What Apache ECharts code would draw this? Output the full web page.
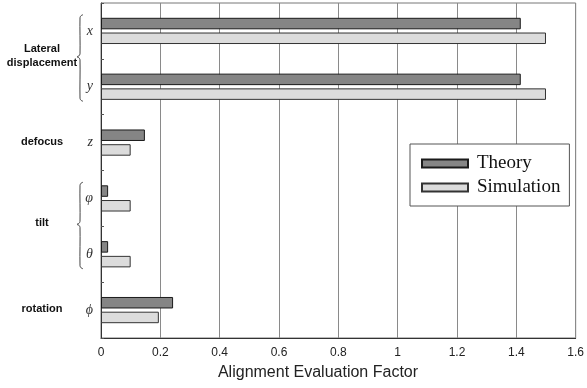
<!DOCTYPE html>
<html>
<head>
<meta charset="utf-8">
<script src="https://cdn.jsdelivr.net/npm/echarts@6/dist/echarts.min.js"></script>
<style>html,body{margin:0;padding:0;background:#fff}#c{width:587px;height:388px}</style>
</head>
<body>
<div id="c"></div>
<script>
var categories = ['x', 'y', 'z', 'φ', 'θ', 'ϕ'];
var theory = [1.415, 1.415, 0.148, 0.024, 0.024, 0.243];
var simulation = [1.5, 1.5, 0.1, 0.1, 0.1, 0.195];
var seriesNames = ['Theory', 'Simulation'];
var xTicks = [0, 0.2, 0.4, 0.6, 0.8, 1, 1.2, 1.4, 1.6];
var groupNames = ['Lateral\ndisplacement', 'defocus', 'tilt', 'rotation'];
var groupFrom = [0, 2, 3, 5];
var groupTo = [1, 2, 4, 5];
var axisTitle = 'Alignment Evaluation Factor';

(function () {
var chart = echarts.init(document.getElementById('c'));
var option = {
  animation: false,
  backgroundColor: '#fff',
  grid: { left: 101, right: 8, top: 3, bottom: 50, show: true, borderColor: '#777', borderWidth: 1 },
  xAxis: {
    type: 'value', min: xTicks[0], max: xTicks[xTicks.length - 1], interval: 0.2,
    axisLine: { show: true, lineStyle: { color: '#333' } },
    axisTick: { show: false },
    splitLine: { show: true, lineStyle: { color: '#8a8a8a', width: 1 } },
    axisLabel: { margin: 9, fontFamily: 'Liberation Sans', fontSize: 12, color: '#222',
      formatter: function (v) { return String(+v.toFixed(1)); } }
  },
  yAxis: {
    type: 'category', data: categories, inverse: true,
    axisLine: { show: true, lineStyle: { color: '#333' } },
    axisTick: { show: true, inside: true, length: 3, lineStyle: { color: '#555' } },
    axisLabel: { margin: 8, fontFamily: 'Liberation Serif', fontStyle: 'italic', fontSize: 14, color: '#333' }
  },
  legend: {
    data: seriesNames, orient: 'vertical', left: 410, top: 144,
    padding: [10, 9, 9, 11], itemGap: 5, itemWidth: 46, itemHeight: 8,
    backgroundColor: '#fff', borderColor: '#555', borderWidth: 1,
    icon: 'rect',
    textStyle: { fontFamily: 'Liberation Serif', fontSize: 19, color: '#111', padding: [0, 0, 0, 4] }
  },
  series: [
    { name: seriesNames[0], type: 'bar', data: theory, barWidth: 11.5, barGap: '28%',
      itemStyle: { color: '#858585', borderColor: '#1a1a1a', borderWidth: 1 } },
    { name: seriesNames[1], type: 'bar', data: simulation, barWidth: 11.5,
      itemStyle: { color: '#dcdcdc', borderColor: '#333', borderWidth: 1 } }
  ]
};
chart.setOption(option);

function bs() { return { fill: 'none', stroke: '#444', lineWidth: 1 }; }
var g = [];
var band = (chart.convertToPixel({ yAxisIndex: 0 }, categories[1]) - chart.convertToPixel({ yAxisIndex: 0 }, categories[0]));
for (var i = 0; i < groupNames.length; i++) {
  var y0 = chart.convertToPixel({ yAxisIndex: 0 }, categories[groupFrom[i]]);
  var y1 = chart.convertToPixel({ yAxisIndex: 0 }, categories[groupTo[i]]);
  var mid = (y0 + y1) / 2;
  var multi = groupFrom[i] !== groupTo[i];
  g.push({
    type: 'text', x: 42, y: mid - (multi ? 3 : 1),
    style: { text: groupNames[i], font: 'bold 11px "Liberation Sans"',
      fill: '#111', align: 'center', verticalAlign: 'middle', lineHeight: 14 }
  });
  if (multi) {
    var yTop = y0 - band * 0.29, yBot = y1 + band * 0.26, m = mid - 2;
    var ax = 83, bx = 80, tx = 77, r = 3;
    g.push({ type: 'polyline', shape: { points: [[ax, yTop], [bx + 1, yTop + 1], [bx, yTop + r], [bx, m - r], [bx - 1, m - 1], [tx, m], [bx - 1, m + 1], [bx, m + r], [bx, yBot - r], [bx + 1, yBot - 1], [ax, yBot]], smooth: 0.3 }, style: bs() });
  }
}
g.push({ type: 'text', x: 318, y: 373,
  style: { text: axisTitle, font: '16px "Liberation Sans"', fill: '#222',
    align: 'center', verticalAlign: 'middle' } });
chart.setOption({ graphic: { elements: g } });
})();
</script>
</body>
</html>
